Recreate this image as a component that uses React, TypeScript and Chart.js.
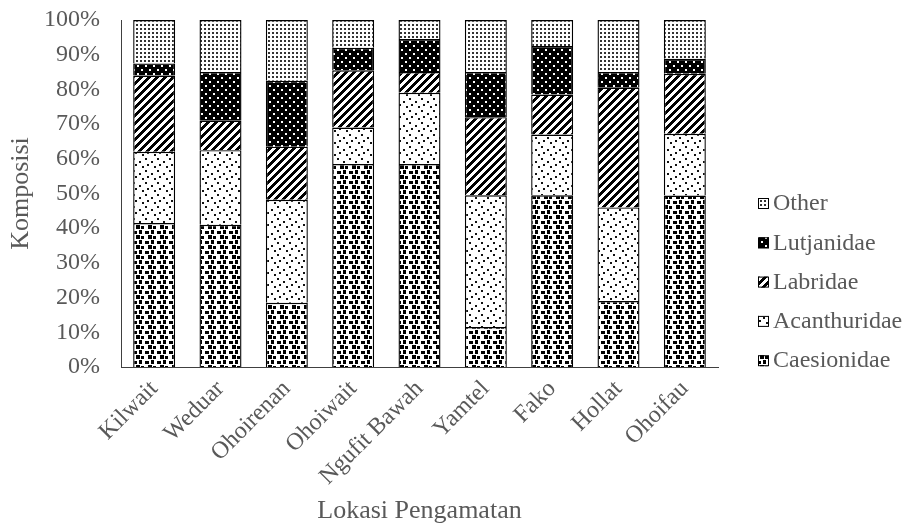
import React, { useEffect, useRef } from 'react';
import { Chart, registerables } from 'chart.js';
Chart.register(...registerables);

const locations = ['Kilwait', 'Weduar', 'Ohoirenan', 'Ohoiwait', 'Ngufit Bawah', 'Yamtel', 'Fako', 'Hollat', 'Ohoifau'];
const caesionidae = [41.5, 41, 18.5, 58.5, 58.5, 11.5, 49.5, 19, 49.4];
const acanthuridae = [20.5, 21.5, 29.7, 10.5, 20.5, 38, 17.5, 27, 17.8];
const labridae = [22, 8.5, 15.3, 16.5, 6, 22.5, 11.5, 34.5, 17.3];
const lutjanidae = [3.5, 14, 19, 6.5, 9.5, 13, 14, 4.5, 4.3];
const other = [12.5, 15, 17.5, 8, 5.5, 15, 7.5, 15, 11.2];
const seriesNames = ['Caesionidae', 'Acanthuridae', 'Labridae', 'Lutjanidae', 'Other'];
const yTickValues = [0, 10, 20, 30, 40, 50, 60, 70, 80, 90, 100];

const FONT = "'Liberation Serif', 'Times New Roman', serif";
const TEXT = '#595959';

function makePattern(w: number, h: number, bg: string, draw: (c: CanvasRenderingContext2D) => void) {
  const cv = document.createElement('canvas');
  cv.width = w;
  cv.height = h;
  const c = cv.getContext('2d')!;
  c.fillStyle = bg;
  c.fillRect(0, 0, w, h);
  draw(c);
  const main = document.createElement('canvas').getContext('2d')!;
  return main.createPattern(cv, 'repeat')!;
}

function buildPatterns() {
  const caes = makePattern(12, 10, '#fff', (c) => {
    c.fillStyle = '#000';
    c.fillRect(1, 1, 4, 3);
    c.fillRect(7, 0, 3, 4);
    c.fillRect(4, 5, 4, 4);
    c.fillRect(9, 6, 3, 3);
  });
  const acan = makePattern(12, 12, '#fff', (c) => {
    c.fillStyle = '#111';
    c.fillRect(1, 2, 2, 2);
    c.fillRect(7, 5, 2, 2);
    c.fillRect(3, 8, 2, 2);
    c.fillRect(10, 10, 2, 2);
  });
  const labr = makePattern(8, 8, '#fff', (c) => {
    c.fillStyle = '#000';
    for (let x = 0; x < 8; x++) {
      for (let y = 0; y < 8; y++) {
        if ((x + y) % 8 < 4) c.fillRect(x, y, 1, 1);
      }
    }
  });
  const lutj = makePattern(8, 8, '#000', (c) => {
    c.fillStyle = '#fff';
    c.fillRect(1, 1, 2, 2);
    c.fillRect(5, 5, 2, 2);
  });
  const oth = makePattern(4, 4, '#fff', (c) => {
    c.fillStyle = '#333';
    c.fillRect(0, 0, 2, 2);
  });
  return [caes, acan, labr, lutj, oth];
}

export default function App() {
  const ref = useRef<HTMLCanvasElement | null>(null);

  useEffect(() => {
    document.body.style.margin = '0';
    const canvas = ref.current!;
    const patterns = buildPatterns();
    const values = [caesionidae, acanthuridae, labridae, lutjanidae, other];

    const legendPlugin = {
      id: 'customLegend',
      afterDraw(chart: any) {
        const ctx = chart.ctx as CanvasRenderingContext2D;
        const area = chart.chartArea;
        const x = area.right + 40;
        const startY = 203;
        const step = 39.3;
        ctx.save();
        ctx.font = `24px ${FONT}`;
        ctx.textBaseline = 'middle';
        ctx.textAlign = 'left';
        for (let i = 0; i < seriesNames.length; i++) {
          const idx = seriesNames.length - 1 - i;
          const y = startY + i * step;
          ctx.fillStyle = patterns[idx] as any;
          ctx.fillRect(x, y - 5, 11, 11);
          ctx.strokeStyle = '#000';
          ctx.lineWidth = 1;
          ctx.strokeRect(x + 0.5, y - 4.5, 10, 10);
          ctx.fillStyle = TEXT;
          ctx.fillText(seriesNames[idx], x + 15, y + 1);
        }
        ctx.restore();
      },
    };

    const chart = new Chart(canvas, {
      type: 'bar',
      data: {
        labels: locations,
        datasets: seriesNames.map((name, i) => ({
          label: name,
          data: values[i],
          backgroundColor: patterns[i] as any,
          borderColor: '#000',
          borderWidth: 1.4,
          categoryPercentage: 1,
          barPercentage: 0.633,
        })),
      },
      options: {
        responsive: false,
        animation: false,
        layout: { padding: { top: 20, right: 191, left: 0, bottom: 2 } },
        plugins: {
          legend: { display: false },
          tooltip: { enabled: false },
        },
        scales: {
          x: {
            stacked: true,
            grid: { display: false, drawTicks: false },
            border: { display: true, color: '#404040', width: 1 },
            ticks: {
              color: TEXT,
              font: { family: FONT, size: 24 },
              minRotation: 45,
              maxRotation: 45,
              padding: 8,
              autoSkip: false,
            },
            title: {
              display: true,
              text: 'Lokasi Pengamatan',
              color: TEXT,
              font: { family: FONT, size: 26 },
              padding: { top: 0, bottom: 0 },
            },
            afterFit(scale: any) {
              scale.height = 529 - 2 - 367;
              scale.paddingLeft = 0;
              scale.paddingRight = 0;
              scale.paddingTop = 0;
              scale.paddingBottom = 0;
            },
          },
          y: {
            stacked: true,
            min: 0,
            max: 100,
            grid: { display: false, drawTicks: false },
            border: { display: true, color: '#404040', width: 1 },
            afterBuildTicks(scale: any) {
              scale.ticks = yTickValues.map((v) => ({ value: v }));
            },
            ticks: {
              color: TEXT,
              font: { family: FONT, size: 24 },
              padding: 21,
              callback: (v: any) => `${v}%`,
            },
            title: {
              display: true,
              text: 'Komposisi',
              color: TEXT,
              font: { family: FONT, size: 26 },
              padding: { top: 6, bottom: 0 },
            },
            afterFit(scale: any) {
              scale.width = 121;
              scale.paddingTop = 0;
              scale.paddingBottom = 0;
              scale.paddingLeft = 0;
              scale.paddingRight = 0;
            },
          },
        },
      },
      plugins: [legendPlugin],
    });
    return () => chart.destroy();
  }, []);

  return (
    <div style={{ position: 'absolute', left: 0, top: 0, width: 909, height: 529 }}>
      <canvas ref={ref} width={909} height={529} style={{ width: 909, height: 529, display: 'block' }} />
    </div>
  );
}
